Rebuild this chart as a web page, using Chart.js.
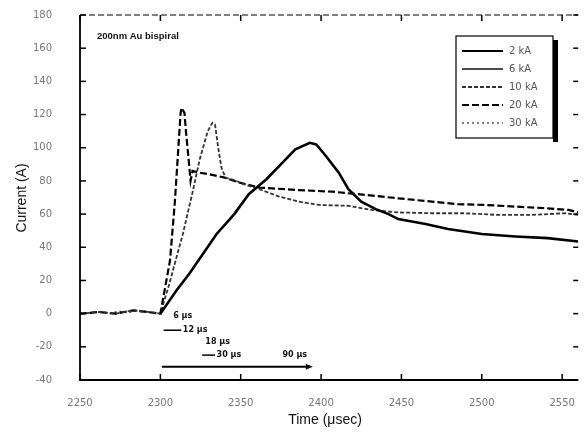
<!DOCTYPE html>
<html><head><meta charset="utf-8">
<script src="https://cdn.jsdelivr.net/npm/chart.js@4/dist/chart.umd.min.js"></script>
<style>html,body{margin:0;padding:0;background:#fff}#wrap{width:584px;height:438px;position:relative}</style>
</head><body><div id="wrap"><canvas id="c"></canvas></div>
<script>
// ---- data ----
const seriesLabels = ['2 kA', '6 kA', '10 kA', '20 kA', '30 kA'];

const slowTime = [2300, 2310, 2318, 2335, 2346, 2355, 2366, 2376, 2384, 2393, 2397, 2403, 2411, 2417, 2425, 2434, 2442, 2448, 2465, 2479, 2500, 2521, 2541, 2560];
const slowCurrent = [0, 14, 24, 48, 60, 72, 81, 91, 99, 103, 102, 95, 85, 75, 67.5, 63, 60, 57, 54, 51, 48, 46.5, 45.5, 43.5];

const thinTime = [];
const thinCurrent = [];

const midTime = [2250, 2262, 2272, 2283, 2292, 2300, 2305, 2314, 2320, 2324.5, 2329.5, 2332.4, 2334, 2336, 2338, 2340.5, 2346, 2352, 2361.5, 2374, 2386, 2399, 2417, 2431.5, 2448, 2469, 2490, 2510, 2531, 2552, 2560];
const midCurrent = [0, 1, 0, 2, 1, 0, 16, 48, 73, 93, 110, 115, 114, 100, 88, 82, 80.5, 78, 75, 70.5, 67.5, 65.5, 65, 62.5, 61, 60.5, 60.5, 59.5, 59.5, 60.5, 59.5];

const fastTime = [2250, 2262, 2272, 2283, 2292, 2300, 2306, 2309, 2311, 2312.6, 2313.2, 2315, 2316, 2317.5, 2318.8, 2320, 2324, 2330.5, 2340, 2349, 2361.5, 2386, 2407, 2428, 2448, 2469, 2485, 2502, 2521, 2541, 2554, 2560];
const fastCurrent = [0, 1, 0, 2, 1, 0, 32, 67, 97, 121, 124, 121, 109, 94, 80, 86, 85, 84, 82, 79, 76, 74.5, 73.5, 71.5, 69.5, 67.5, 66, 65.5, 64.5, 63.5, 62.5, 61];

const preTime = [2250, 2256, 2262, 2268, 2274, 2280, 2286, 2292, 2300];
const preCurrent = [0, 0.5, 1, 0, 1.5, 0.5, 2, 1, 0];

const xTickValues = [2250, 2300, 2350, 2400, 2450, 2500, 2550];
const yTickValues = [-40, -20, 0, 20, 40, 60, 80, 100, 120, 140, 160, 180];

const noteTexts = ['6 μs', '12 μs', '18 μs', '30 μs', '90 μs'];
const noteTime = [2308, 2314, 2328, 2335, 2376];
const noteCurrent = [-1.5, -10, -17, -25, -25];

function pts(t, v) { return t.map((x, i) => ({ x: x, y: v[i] })); }

const datasets = [
  { label: seriesLabels[0], data: pts(slowTime, slowCurrent), borderColor: '#000', borderWidth: 2.6, borderDash: [] },
  { label: seriesLabels[1], data: pts(thinTime, thinCurrent), borderColor: '#111', borderWidth: 1.4, borderDash: [] },
  { label: seriesLabels[2], data: pts(midTime, midCurrent), borderColor: '#333', borderWidth: 1.8, borderDash: [4, 2] },
  { label: seriesLabels[3], data: pts(fastTime, fastCurrent), borderColor: '#000', borderWidth: 2.2, borderDash: [7, 3] },
  { label: seriesLabels[4], data: pts(preTime, preCurrent), borderColor: '#555', borderWidth: 1.5, borderDash: [2, 3] }
];
datasets.forEach(d => { d.pointRadius = 0; d.fill = false; d.tension = 0; });

const decor = {
  id: 'decor',
  afterDraw(chart) {
    const ctx = chart.ctx, a = chart.chartArea, xs = chart.scales.x, ys = chart.scales.y;
    ctx.save();
    ctx.strokeStyle = '#000';
    // frame
    ctx.lineWidth = 1.8; ctx.setLineDash([]);
    ctx.beginPath(); ctx.moveTo(a.left, a.top); ctx.lineTo(a.left, a.bottom); ctx.lineTo(a.right, a.bottom); ctx.stroke();
    ctx.lineWidth = 1.2; ctx.setLineDash([6, 3]);
    ctx.beginPath(); ctx.moveTo(a.left, a.top); ctx.lineTo(a.right, a.top); ctx.stroke();
    ctx.setLineDash([]); ctx.lineWidth = 1.5;
    yTickValues.forEach(v => {
      const y = ys.getPixelForValue(v);
      ctx.beginPath(); ctx.moveTo(a.left, y); ctx.lineTo(a.left + 6, y); ctx.stroke();
      ctx.beginPath(); ctx.moveTo(a.right, y); ctx.lineTo(a.right - 5, y); ctx.stroke();
    });
    xTickValues.forEach(v => {
      const x = xs.getPixelForValue(v);
      ctx.beginPath(); ctx.moveTo(x, a.bottom); ctx.lineTo(x, a.bottom - 6); ctx.stroke();
      ctx.beginPath(); ctx.moveTo(x, a.top); ctx.lineTo(x, a.top + 6); ctx.stroke();
    });
    // axis titles
    ctx.fillStyle = '#111';
    ctx.font = '14px "Liberation Sans", Arial, sans-serif';
    ctx.textAlign = 'center'; ctx.textBaseline = 'middle';
    ctx.fillText('Time (μsec)', 325, 420);
    ctx.save(); ctx.translate(22, 198); ctx.rotate(-Math.PI / 2); ctx.fillText('Current (A)', 0, 0); ctx.restore();
    // sample title
    ctx.font = 'bold 9.5px "Liberation Sans Narrow", "Liberation Sans", Arial, sans-serif'; ctx.textAlign = 'left';
    ctx.fillText('200nm Au bispiral', 97, 36);
    // annotations
    ctx.font = 'bold 8px "DejaVu Sans", sans-serif';
    noteTexts.forEach((t, i) => ctx.fillText(t, xs.getPixelForValue(noteTime[i]), ys.getPixelForValue(noteCurrent[i])));
    ctx.lineWidth = 1.5;
    const seg = (x1, x2, yv) => { const y = ys.getPixelForValue(yv); ctx.beginPath(); ctx.moveTo(xs.getPixelForValue(x1), y); ctx.lineTo(xs.getPixelForValue(x2), y); ctx.stroke(); };
    seg(2302, 2313, -10); seg(2326, 2334, -25);
    const ay = ys.getPixelForValue(-32), ax1 = xs.getPixelForValue(2301), ax2 = xs.getPixelForValue(2393);
    ctx.lineWidth = 2; ctx.beginPath(); ctx.moveTo(ax1, ay); ctx.lineTo(ax2, ay); ctx.stroke();
    ctx.beginPath(); ctx.moveTo(ax2 + 3, ay); ctx.lineTo(ax2 - 4, ay - 3); ctx.lineTo(ax2 - 4, ay + 3); ctx.closePath(); ctx.fill();
    // legend
    const lx = 456, ly = 36, lw = 97, lh = 102;
    ctx.fillStyle = '#fff'; ctx.fillRect(lx, ly, lw, lh);
    ctx.fillStyle = '#000'; ctx.fillRect(lx + lw, ly + 4, 5, lh);
    ctx.lineWidth = 1.2; ctx.setLineDash([]);
    ctx.strokeRect(lx, ly, lw, lh);
    ctx.font = '10px "DejaVu Sans", sans-serif'; ctx.textBaseline = 'middle';
    chart.data.datasets.forEach((d, i) => {
      const y = 51 + i * 18;
      ctx.strokeStyle = d.borderColor; ctx.lineWidth = Math.min(d.borderWidth, 2); ctx.setLineDash(d.borderDash);
      ctx.beginPath(); ctx.moveTo(lx + 6, y); ctx.lineTo(lx + 47, y); ctx.stroke();
      ctx.fillStyle = '#555'; ctx.fillText(d.label, lx + 53, y);
    });
    ctx.restore();
  }
};

new Chart(document.getElementById('c'), {
  type: 'line',
  data: { datasets: datasets },
  options: {
    responsive: true, maintainAspectRatio: false, animation: false,
    layout: { padding: { top: 15, right: 4, left: 0, bottom: 0 } },
    plugins: { legend: { display: false }, tooltip: { enabled: false } },
    scales: {
      x: {
        type: 'linear', min: 2250, max: 2560,
        afterBuildTicks: s => { s.ticks = xTickValues.map(v => ({ value: v })); },
        afterFit: s => { s.height = 58; },
        grid: { display: false }, border: { display: false },
        ticks: { color: '#777', font: { size: 10, family: 'DejaVu Sans' }, padding: 9, maxRotation: 0, callback: v => String(v) }
      },
      y: {
        min: -40, max: 180,
        afterBuildTicks: s => { s.ticks = yTickValues.map(v => ({ value: v })); },
        afterFit: s => { s.width = 80; s.paddingTop = 0; s.paddingBottom = 0; },
        grid: { display: false }, border: { display: false },
        ticks: { color: '#777', font: { size: 10, family: 'DejaVu Sans' }, padding: 20, callback: v => String(v) }
      }
    }
  },
  plugins: [decor]
});
</script></body></html>
